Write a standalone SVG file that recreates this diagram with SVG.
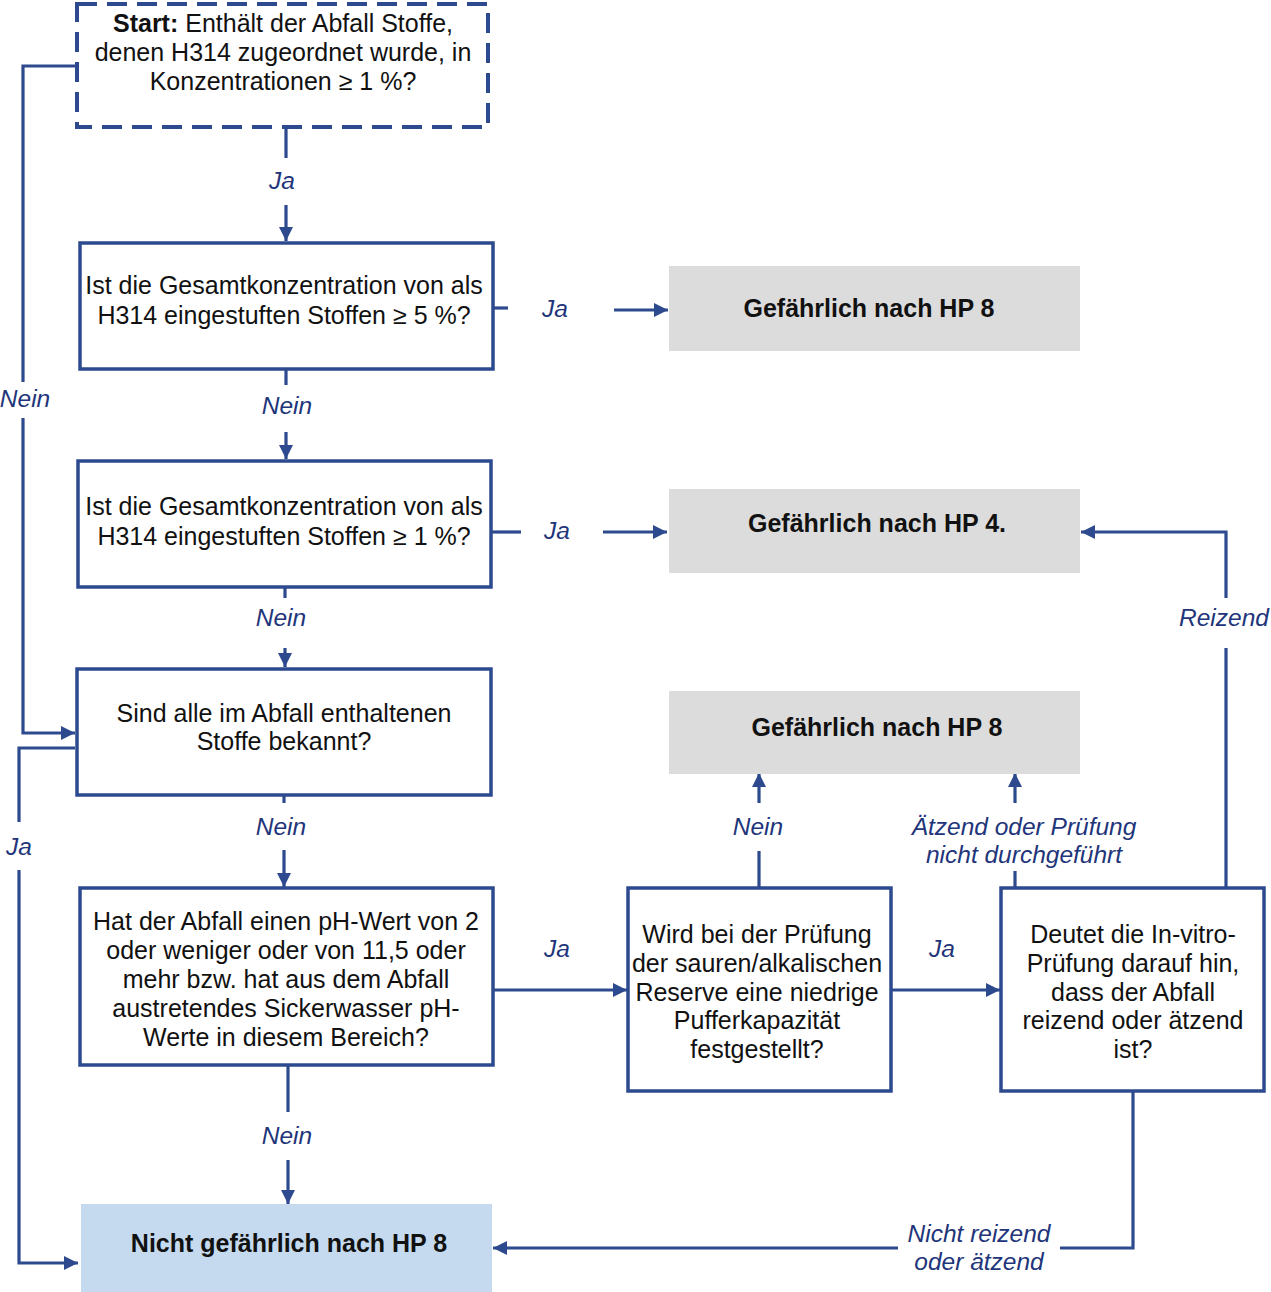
<svg xmlns="http://www.w3.org/2000/svg" width="1271" height="1292" viewBox="0 0 1271 1292">
<style>
.box{fill:#fff;stroke:#2e4a8e;stroke-width:3.5}
.start{fill:#fff;stroke:#2e4a8e;stroke-width:4;stroke-dasharray:20 10}
.gray{fill:#dcdcdc}
.blue{fill:#c5daee}
.conn{fill:none;stroke:#2e4a8e;stroke-width:3.2}
.txt{font-family:"Liberation Sans",Arial,sans-serif;font-size:25px;fill:#111;text-anchor:middle}
.b{font-weight:bold}
.lbl{font-family:"Liberation Sans",Arial,sans-serif;font-size:24.5px;font-style:italic;fill:#22357a;text-anchor:middle}
</style>
<defs>
<marker id="arr" markerUnits="userSpaceOnUse" markerWidth="16" markerHeight="14" refX="14" refY="7" orient="auto">
<path d="M0,0 L14,7 L0,14 z" fill="#2e4a8e"/>
</marker>
</defs>
<rect width="1271" height="1292" fill="#fff"/>

<g id="connectors">
<path class="conn" d="M286,127 V158"/>
<path class="conn" d="M286,205 V241" marker-end="url(#arr)"/>
<text class="lbl" x="282" y="189">Ja</text>

<path class="conn" d="M493,308 H508"/>
<path class="conn" d="M614,310 H668" marker-end="url(#arr)"/>
<text class="lbl" x="555" y="317">Ja</text>

<path class="conn" d="M286,369 V385"/>
<path class="conn" d="M286,432 V459" marker-end="url(#arr)"/>
<text class="lbl" x="287" y="414">Nein</text>

<path class="conn" d="M491,532 H521"/>
<path class="conn" d="M603,532 H667" marker-end="url(#arr)"/>
<text class="lbl" x="557" y="539">Ja</text>

<path class="conn" d="M285,587 V598"/>
<path class="conn" d="M285,648 V667" marker-end="url(#arr)"/>
<text class="lbl" x="281" y="626">Nein</text>

<path class="conn" d="M77,66 H23 V382"/>
<path class="conn" d="M23,418 V733 H75" marker-end="url(#arr)"/>
<text class="lbl" x="25" y="407">Nein</text>

<path class="conn" d="M75,748 H19 V822"/>
<path class="conn" d="M19,870 V1263 H78" marker-end="url(#arr)"/>
<text class="lbl" x="19" y="855">Ja</text>

<path class="conn" d="M284,795 V803"/>
<path class="conn" d="M284,850 V887" marker-end="url(#arr)"/>
<text class="lbl" x="281" y="835">Nein</text>

<path class="conn" d="M288,1065 V1112"/>
<path class="conn" d="M288,1160 V1204" marker-end="url(#arr)"/>
<text class="lbl" x="287" y="1144">Nein</text>

<path class="conn" d="M493,990 H627" marker-end="url(#arr)"/>
<text class="lbl" x="557" y="957">Ja</text>

<path class="conn" d="M759,888 V851"/>
<path class="conn" d="M759,803 V773" marker-end="url(#arr)"/>
<text class="lbl" x="758" y="835">Nein</text>

<path class="conn" d="M891,990 H1000" marker-end="url(#arr)"/>
<text class="lbl" x="942" y="957">Ja</text>

<path class="conn" d="M1015,888 V871"/>
<path class="conn" d="M1015,803 V773" marker-end="url(#arr)"/>
<text class="lbl" x="1024" y="835">Ätzend oder Prüfung</text>
<text class="lbl" x="1024" y="863">nicht durchgeführt</text>

<path class="conn" d="M1226,888 V648"/>
<path class="conn" d="M1226,598 V532 H1081" marker-end="url(#arr)"/>
<text class="lbl" x="1224" y="626">Reizend</text>

<path class="conn" d="M1133,1091 V1248 H1060"/>
<path class="conn" d="M898,1248 H493" marker-end="url(#arr)"/>
<text class="lbl" x="979" y="1242">Nicht reizend</text>
<text class="lbl" x="979" y="1270">oder ätzend</text>
</g>

<g id="start">
<rect class="start" x="77" y="4" width="411" height="123"/>
<text class="txt" x="283" y="32"><tspan class="b">Start:</tspan> Enthält der Abfall Stoffe,</text>
<text class="txt" x="283" y="61">denen H314 zugeordnet wurde, in</text>
<text class="txt" x="283" y="90">Konzentrationen ≥ 1 %?</text>
</g>

<g id="q5pct">
<rect class="box" x="80" y="243" width="413" height="126"/>
<text class="txt" x="284" y="294">Ist die Gesamtkonzentration von als</text>
<text class="txt" x="284" y="324">H314 eingestuften Stoffen ≥ 5 %?</text>
</g>

<g id="q1pct">
<rect class="box" x="78" y="461" width="413" height="126"/>
<text class="txt" x="284" y="515">Ist die Gesamtkonzentration von als</text>
<text class="txt" x="284" y="545">H314 eingestuften Stoffen ≥ 1 %?</text>
</g>

<g id="qknown">
<rect class="box" x="77" y="669" width="414" height="126"/>
<text class="txt" x="284" y="722">Sind alle im Abfall enthaltenen</text>
<text class="txt" x="284" y="750">Stoffe bekannt?</text>
</g>

<g id="qph">
<rect class="box" x="80" y="888" width="413" height="177"/>
<text class="txt" x="286" y="930">Hat der Abfall einen pH-Wert von 2</text>
<text class="txt" x="286" y="959">oder weniger oder von 11,5 oder</text>
<text class="txt" x="286" y="988">mehr bzw. hat aus dem Abfall</text>
<text class="txt" x="286" y="1017">austretendes Sickerwasser pH-</text>
<text class="txt" x="286" y="1046">Werte in diesem Bereich?</text>
</g>

<g id="qbuffer">
<rect class="box" x="628" y="888" width="263" height="203"/>
<text class="txt" x="757" y="943">Wird bei der Prüfung</text>
<text class="txt" x="757" y="972">der sauren/alkalischen</text>
<text class="txt" x="757" y="1001">Reserve eine niedrige</text>
<text class="txt" x="757" y="1029">Pufferkapazität</text>
<text class="txt" x="757" y="1058">festgestellt?</text>
</g>

<g id="qinvitro">
<rect class="box" x="1001" y="888" width="263" height="203"/>
<text class="txt" x="1133" y="943">Deutet die In-vitro-</text>
<text class="txt" x="1133" y="972">Prüfung darauf hin,</text>
<text class="txt" x="1133" y="1001">dass der Abfall</text>
<text class="txt" x="1133" y="1029">reizend oder ätzend</text>
<text class="txt" x="1133" y="1058">ist?</text>
</g>

<g id="hp8a">
<rect class="gray" x="669" y="266" width="411" height="85"/>
<text class="txt b" x="869" y="317">Gefährlich nach HP 8</text>
</g>

<g id="hp4">
<rect class="gray" x="669" y="489" width="411" height="84"/>
<text class="txt b" x="877" y="532">Gefährlich nach HP 4.</text>
</g>

<g id="hp8b">
<rect class="gray" x="669" y="691" width="411" height="83"/>
<text class="txt b" x="877" y="736">Gefährlich nach HP 8</text>
</g>

<g id="nothp8">
<rect class="blue" x="81" y="1204" width="411" height="88"/>
<text class="txt b" x="289" y="1252">Nicht gefährlich nach HP 8</text>
</g>
</svg>
